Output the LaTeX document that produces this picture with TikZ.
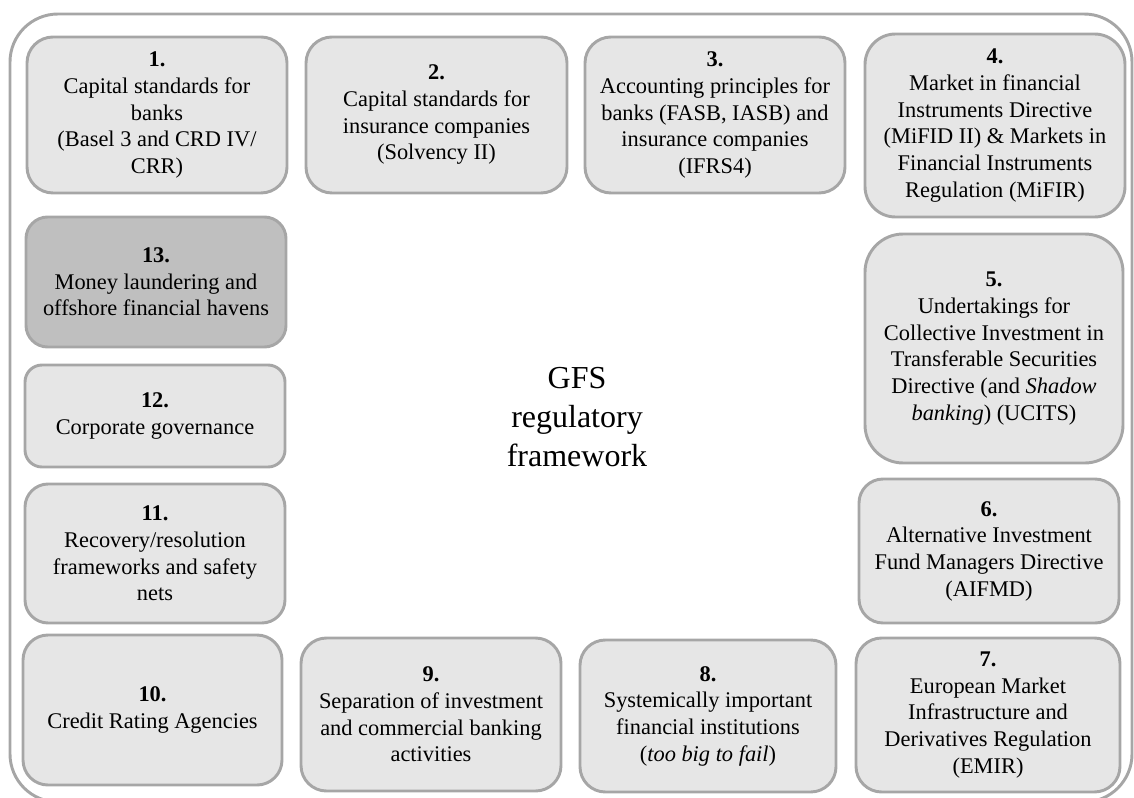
\documentclass[tikz,border=0pt]{standalone}
\usepackage{fontspec}
\setmainfont{Liberation Serif}
\definecolor{boxfill}{HTML}{E6E6E6}
\definecolor{darkfill}{HTML}{BFBFBF}
\definecolor{edge}{HTML}{A6A6A6}
\tikzset{
  gbox/.style={draw=edge, line width=2.2pt, fill=boxfill, rectangle, align=center, inner sep=0pt,
    font={\fontsize{16.8}{20}\selectfont}, text=black},
  darkbox/.style={gbox, fill=darkfill},
  frame/.style={draw=edge, line width=2.2pt},
  title/.style={align=center, font={\fontsize{24}{29}\selectfont}, text=black}
}
% name, x1, y1, x2, y2, style, text
\newcommand\gfsbox[7]{%
  \node[#6, minimum width={(#4-#2)*0.75pt}, minimum height={(#5-#3)*0.75pt},
        rounded corners={0.1667*min(#4-#2,#5-#3)*0.75pt}]
    (#1) at ({(#2+#4)/2},{(#3+#5)/2}) {#7};}
\begin{document}
\begin{tikzpicture}[x=0.75pt,y=-0.75pt]
\useasboundingbox (0,0) rectangle (1134,798);
\draw[frame, rounded corners=36pt] (10,14) rectangle (1132,802);
\gfsbox{b1}{27}{37}{287}{193}{gbox}{\textbf{1.}\\Capital standards for\\banks\\(Basel 3 and CRD IV/\\CRR)}
\gfsbox{b2}{306}{37}{567}{193}{gbox}{\textbf{2.}\\Capital standards for\\insurance companies\\(Solvency II)}
\gfsbox{b3}{585}{37}{845}{193}{gbox}{\textbf{3.}\\Accounting principles for\\banks (FASB, IASB) and\\insurance companies\\(IFRS4)}
\gfsbox{b4}{865}{34}{1125}{217}{gbox}{\textbf{4.}\\Market in financial\\Instruments Directive\\(MiFID II) \& Markets in\\Financial Instruments\\Regulation (MiFIR)}
\gfsbox{b5}{865}{234}{1123}{463}{gbox}{\textbf{5.}\\Undertakings for\\Collective Investment in\\Transferable Securities\\Directive (and \textit{Shadow}\\\textit{banking}) (UCITS)}
\gfsbox{b6}{859}{479}{1119}{623}{gbox}{\textbf{6.}\\Alternative Investment\\Fund Managers Directive\\(AIFMD)}
\gfsbox{b7}{856}{638}{1120}{792}{gbox}{\textbf{7.}\\European Market\\Infrastructure and\\Derivatives Regulation\\(EMIR)}
\gfsbox{b8}{580}{640}{836}{792}{gbox}{\textbf{8.}\\Systemically important\\financial institutions\\(\textit{too big to fail})}
\gfsbox{b9}{301}{638}{561}{791}{gbox}{\textbf{9.}\\Separation of investment\\and commercial banking\\activities}
\gfsbox{b10}{23}{635}{282}{785}{gbox}{\textbf{10.}\\Credit Rating Agencies}
\gfsbox{b11}{25}{484}{285}{623}{gbox}{\textbf{11.}\\Recovery/resolution\\frameworks and safety\\nets}
\gfsbox{b12}{25}{365}{285}{467}{gbox}{\textbf{12.}\\Corporate governance}
\gfsbox{b13}{26}{217}{286}{347}{darkbox}{\textbf{13.}\\Money laundering and\\offshore financial havens}
\node[title] (gfs) at (577,417) {GFS\\regulatory\\framework};
\end{tikzpicture}
\end{document}
